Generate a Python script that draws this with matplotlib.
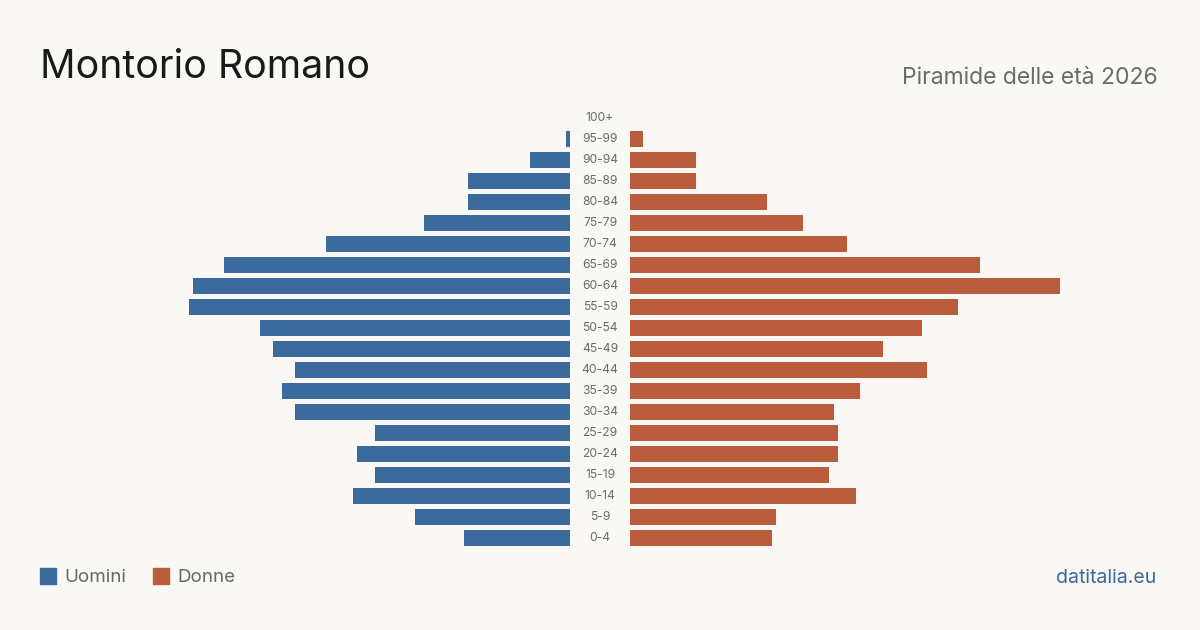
import matplotlib
matplotlib.use('Agg')
import matplotlib.pyplot as plt
import numpy as np

plt.rcParams['font.family'] = ['Inter', 'DejaVu Sans']

# age groups, youngest first
ages = ['0-4', '5-9', '10-14', '15-19', '20-24', '25-29', '30-34', '35-39', '40-44',
        '45-49', '50-54', '55-59', '60-64', '65-69', '70-74', '75-79', '80-84',
        '85-89', '90-94', '95-99', '100+']
men = [24, 35, 49, 44, 48, 44, 62, 65, 62, 67, 70, 86, 85, 78, 55, 33, 23, 23, 9, 1, 0]
women = [32, 33, 51, 45, 47, 47, 46, 52, 67, 57, 66, 74, 97, 79, 49, 39, 31, 15, 15, 3, 0]

BG = '#f9f8f4'
BLUE = '#3b6b9c'
RED = '#bb5c3c'

W, H = 1200, 630
fig = plt.figure(figsize=(12, 6.3), dpi=100, facecolor=BG)

PX = 4.43  # pixels per person
y_top, y_bot = 107.5, 548.5
b = 1 - y_bot / H
h = (y_bot - y_top) / H

def make_ax(x0, x1):
    ax = fig.add_axes([x0 / W, b, (x1 - x0) / W, h])
    ax.set_facecolor('none')
    for s in ax.spines.values():
        s.set_visible(False)
    ax.set_xticks([])
    ax.set_yticks([])
    ax.set_ylim(-0.5, len(ages) - 0.5)
    return ax

y = np.arange(len(ages))

ax_m = make_ax(170, 570)
ax_m.set_xlim(400 / PX, 0)
ax_m.barh(y, men, height=0.8, color=BLUE)

ax_w = make_ax(630, 1090)
ax_w.set_xlim(0, 460 / PX)
ax_w.barh(y, women, height=0.8, color=RED)

for i, lab in enumerate(ages):
    ax_m.text(1 + 30 / 400, i, lab, transform=ax_m.get_yaxis_transform(),
              ha='center', va='center', fontsize=8.7, color='#6b6b6b')

fig.text(40 / W, 1 - 68 / H, 'Montorio Romano', fontsize=28.3, color='#1a1a1a',
         ha='left', va='center')
fig.text(1158 / W, 1 - 78 / H, 'Piramide delle età 2026', fontsize=16.5,
         color='#6b6b6b', ha='right', va='center')

# legend
for x0, col, lab in [(40, BLUE, 'Uomini'), (153, RED, 'Donne')]:
    fig.patches.append(plt.Rectangle((x0 / W, 1 - 584 / H), 16 / W, 16 / H,
                                     transform=fig.transFigure, color=col))
    fig.text((x0 + 24) / W, 1 - 578 / H, lab, fontsize=13.5, color='#666666',
             ha='left', va='center')

fig.text(1156 / W, 1 - 578 / H, 'datitalia.eu', fontsize=14, color=BLUE,
         ha='right', va='center')

fig.savefig('out.png', dpi=100, facecolor=BG)
